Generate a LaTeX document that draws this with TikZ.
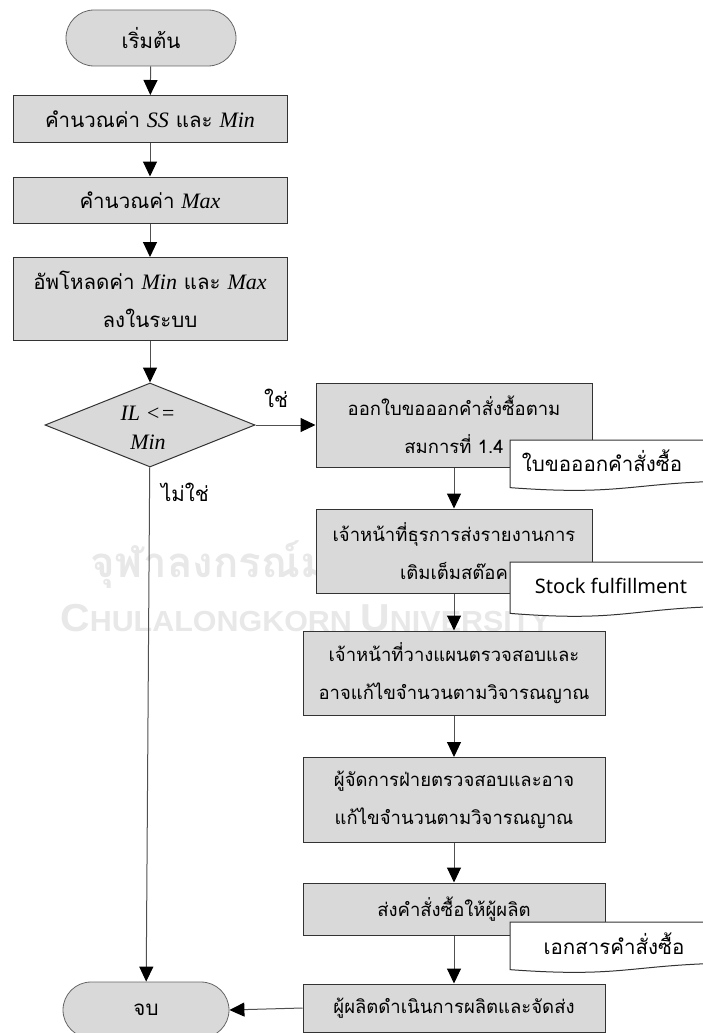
\documentclass[tikz,border=0pt]{standalone}
\usepackage{fontspec}
\setmainfont{Liberation Serif}
\newfontfamily\thai[Script=Thai]{Loma}
\newfontfamily\docsans{Noto Sans}
\newfontfamily\wmsans{Liberation Sans}
\usetikzlibrary{shapes.geometric,arrows.meta,positioning}
\definecolor{boxgray}{RGB}{217,217,217}
\definecolor{linegray}{RGB}{80,80,80}
\definecolor{wmgray}{RGB}{232,232,232}
\newcommand{\lat}[1]{{\rmfamily\itshape\fontsize{22}{38}\selectfont #1}}
% document symbol: left x, top y, height (right side runs off the page)
\newcommand{\papersheet}[3]{%
    \draw[paper] (#1,#2) -- ({#1+240},#2) -- ({#1+240},{#2+0.802*#3})
        .. controls ({#1+120},{#2+0.802*#3}) and ({#1+120},{#2+1.107*#3}) .. (#1,{#2+0.934*#3}) -- cycle;}
\tikzset{
    every node/.style={font=\thai\fontsize{20.5}{38}\selectfont, align=center,
    	inner sep=0pt}
}
\tikzset{
    process/.style={rectangle, draw=black!80, fill=boxgray, line width=1pt},
    task/.style={process, font=\thai\fontsize{18.5}{38}\selectfont},
    terminal/.style={rectangle, rounded corners=28pt, draw=black!60, fill=boxgray,
    	line width=0.8pt},
    decision/.style={diamond, draw=black!80, fill=boxgray, line width=1pt},
    paper/.style={draw=black!80, fill=white, line width=1pt},
    flow/.style={draw=linegray, line width=1pt,
    	-{Triangle[length=15pt, width=14pt, color=black]}}
}

\begin{document}
\begin{tikzpicture}[x=1pt, y=-1pt]
	\useasboundingbox (0,0) rectangle (702,1033);
	% faint watermark behind the chart
	\node (wmthai) [anchor=base west, text=wmgray,
		font=\thai\bfseries\fontsize{42}{42}\selectfont] at (90,577) {จุฬาลงกรณ์ม};
	\node (wmlatin) [anchor=base west, text=wmgray] at (60,631)
		{\scalebox{1.05}[1]{\wmsans\bfseries\fontsize{39}{39}\selectfont C\fontsize{29}{29}\selectfont HULALONGKORN
		\fontsize{39}{39}\selectfont U\fontsize{29}{29}\selectfont NIVERSITY}};

	% left column
	\node (start) [terminal, minimum width=170pt, minimum height=56pt] at (151,38) {เริ่มต้น};
	\node (1) [process, minimum width=274pt, minimum height=47pt] at (150,119)
		{คำนวณค่า \lat{SS} และ \lat{Min}};
	\node (2) [process, minimum width=274pt, minimum height=46pt] at (150,200)
		{คำนวณค่า \lat{Max}};
	\node (3) [process, minimum width=274pt, minimum height=83pt] at (150,299)
		{อัพโหลดค่า \lat{Min} และ \lat{Max}\\ลงในระบบ};
	\node (dec) [decision, minimum width=210pt, minimum height=84pt] at (150,425) {};
	\node (dectxt) [font=\rmfamily\itshape\fontsize{22}{29}\selectfont] at (148,428)
		{IL <=\\Min};
	\node (yes) at (276,398) {ใช่};
	\node (no) at (185,492) {ไม่ใช่};
	\node (stop) [terminal, minimum width=166pt, minimum height=56pt] at (146,1010) {จบ};

	% right column
	\node (4) [task, minimum width=276pt, minimum height=84pt] at (454,425)
		{ออกใบขอออกคำสั่งซื้อตาม\\สมการที่ 1.4};
	\node (5) [task, minimum width=276pt, minimum height=84pt] at (454,551)
		{เจ้าหน้าที่ธุรการส่งรายงานการ\\เติมเต็มสต๊อค};
	\node (6) [task, minimum width=302pt, minimum height=84pt] at (454,673)
		{เจ้าหน้าที่วางแผนตรวจสอบและ\\อาจแก้ไขจำนวนตามวิจารณญาณ};
	\node (7) [task, minimum width=302pt, minimum height=85pt] at (454,800)
		{ผู้จัดการฝ่ายตรวจสอบและอาจ\\แก้ไขจำนวนตามวิจารณญาณ};
	\node (8) [task, minimum width=302pt, minimum height=52pt] at (454,909)
		{ส่งคำสั่งซื้อให้ผู้ผลิต};
	\node (9) [task, minimum width=302pt, minimum height=48pt] at (454,1008)
		{ผู้ผลิตดำเนินการผลิตและจัดส่ง};

	% documents
	\papersheet{510}{440}{51}
	\node (doc1) at (602,461) {ใบขอออกคำสั่งซื้อ};
	\papersheet{510}{562}{55}
	\node (doc2) [font=\docsans\fontsize{20}{22}\selectfont] at (611,586) {Stock fulfillment};
	\papersheet{510}{922}{51}
	\node (doc3) at (614,944) {เอกสารคำสั่งซื้อ};

	\draw[flow] (start) -- (1); \draw[flow] (1) -- (2);
	\draw[flow] (2) -- (3); \draw[flow] (3) -- (dec);
	\draw[flow] (dec) -- (4);
	\draw[flow] (4) -- (5); \draw[flow] (5) -- (6);
	\draw[flow] (6) -- (7); \draw[flow] (7) -- (8);
	\draw[flow] (8) -- (9);
	\draw[flow] (9.west) -- (stop.east);
	\draw[flow] (dec) -- (stop);
\end{tikzpicture}
\end{document}
